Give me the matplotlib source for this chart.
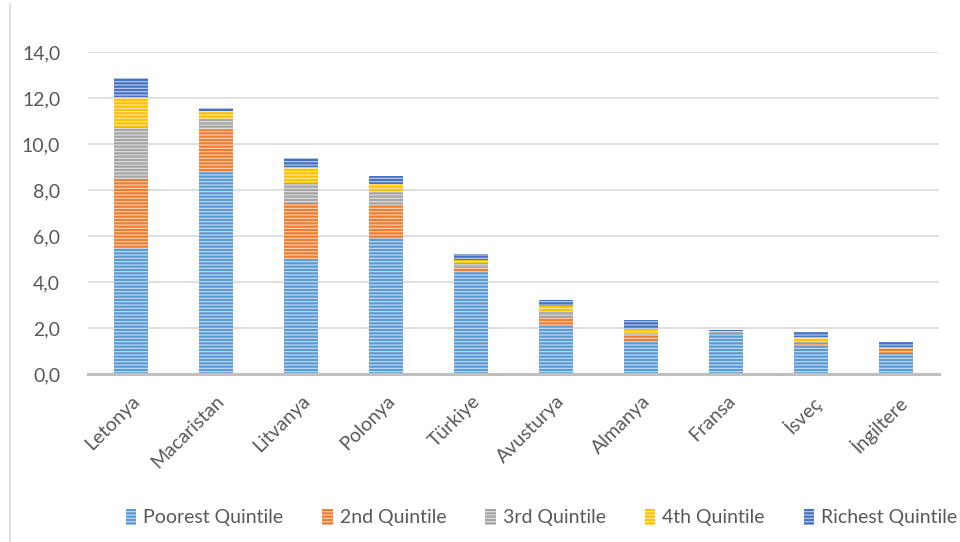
import numpy as np
import matplotlib.pyplot as plt
import matplotlib as mpl
from matplotlib.lines import Line2D
from matplotlib.ticker import FuncFormatter

countries = ["Letonya", "Macaristan", "Litvanya", "Polonya", "Türkiye",
             "Avusturya", "Almanya", "Fransa", "İsveç", "İngiltere"]
series_names = ["Poorest Quintile", "2nd Quintile", "3rd Quintile",
                "4th Quintile", "Richest Quintile"]
poorest = [5.50, 8.80, 4.95, 5.90, 4.45, 2.15, 1.45, 1.75, 1.20, 0.93]
second = [3.00, 1.80, 2.50, 1.43, 0.17, 0.33, 0.25, 0.02, 0.13, 0.19]
third = [2.25, 0.50, 0.87, 0.60, 0.22, 0.26, 0.05, 0.08, 0.12, 0.03]
fourth = [1.30, 0.35, 0.70, 0.33, 0.12, 0.21, 0.20, 0.02, 0.17, 0.02]
richest = [0.80, 0.12, 0.35, 0.35, 0.24, 0.26, 0.40, 0.05, 0.19, 0.23]
colors = ["#5B9BD5", "#ED7D31", "#A5A5A5", "#FFC000", "#4472C4"]

mpl.rcParams['font.family'] = ['Lato', 'DejaVu Sans']
mpl.rcParams['hatch.linewidth'] = 0.8
txt = '#595959'

fig = plt.figure(figsize=(9.6, 5.42), dpi=100)
ax = fig.add_axes([88/960, 1-374/542, (939-88)/960, (374-52)/542])

x = np.arange(len(countries))
bottom = np.zeros(len(countries))
handles = []
for vals, col, name in zip([poorest, second, third, fourth, richest], colors, series_names):
    vals = np.array(vals)
    ax.bar(x, vals, 0.4, bottom=bottom, color=col, edgecolor='#ffffffaa',
           linewidth=0, hatch='-----', zorder=3)
    bottom += vals
    handles.append(mpl.patches.Patch(facecolor=col, edgecolor='#ffffffaa',
                                      linewidth=0, hatch='-----', label=name))

ax.set_xlim(-0.5, len(countries)-0.5)
ax.set_ylim(0, 14)
ax.set_yticks(np.arange(0, 15, 2))
ax.yaxis.set_major_formatter(FuncFormatter(lambda v, p: f"{v:.1f}".replace('.', ',')))
ax.grid(axis='y', color='#D9D9D9', linewidth=1.2, zorder=0)
for s in ['top', 'right', 'left']:
    ax.spines[s].set_visible(False)
ax.spines['bottom'].set_color('#BFBFBF')
ax.spines['bottom'].set_linewidth(2.2)
ax.spines['bottom'].set_zorder(4)
ax.tick_params(axis='both', length=0, colors=txt, labelsize=14)
ax.tick_params(axis='y', pad=20)
ax.set_xticks(x)
ax.set_xticklabels(countries, rotation=45, ha='right', rotation_mode='anchor')
ax.tick_params(axis='x', pad=13)

fig.legend(handles=handles, loc='center', bbox_to_anchor=(0.564, 0.045), ncol=5,
           frameon=False, handlelength=0.55, handleheight=0.9, handletextpad=0.35,
           columnspacing=2.0, fontsize=14, labelcolor=txt)

fig.add_artist(Line2D([10/960, 10/960], [0, 1-4/542], color='#D9D9D9', linewidth=1.2))

fig.savefig('out.png', dpi=100)
